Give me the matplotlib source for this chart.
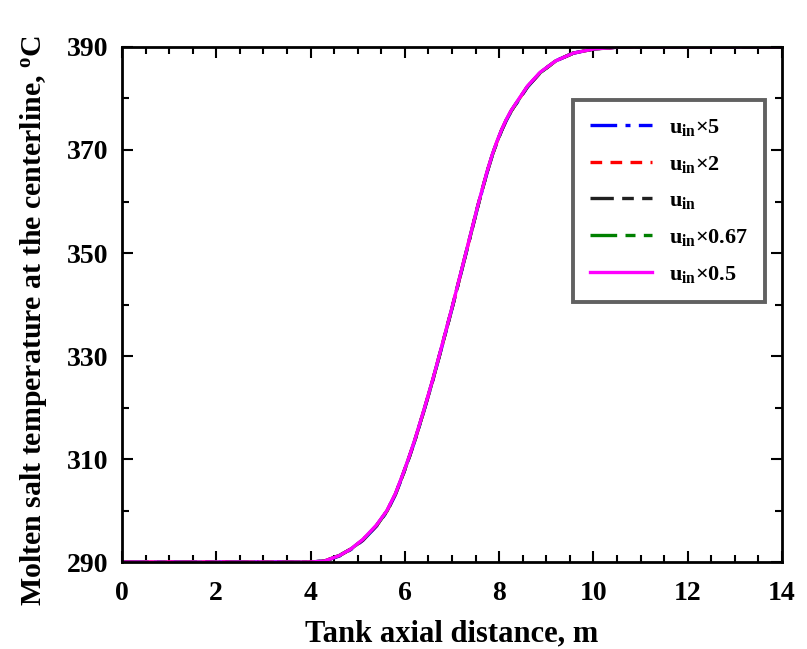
import matplotlib
matplotlib.use("Agg")
import matplotlib.pyplot as plt
from matplotlib.ticker import MultipleLocator, FixedLocator

plt.rcParams['font.family'] = ['Liberation Serif', 'DejaVu Serif']
plt.rcParams['font.weight'] = 'bold'
plt.rcParams['mathtext.fontset'] = 'custom'
plt.rcParams['mathtext.rm'] = 'Liberation Serif:bold'
plt.rcParams['mathtext.it'] = 'Liberation Serif:bold'
plt.rcParams['mathtext.bf'] = 'Liberation Serif:bold'

# Axial distance (m)
x = [0, 2, 4.0, 4.3, 4.62, 4.85, 5.11, 5.4, 5.62, 5.8, 5.96, 6.1, 6.22, 6.4, 6.6, 6.8,
     7.0, 7.18, 7.36, 7.55, 7.74, 7.85, 7.95, 8.05, 8.15, 8.25, 8.38, 8.6, 8.87, 9.2,
     9.57, 10.0, 10.56, 12, 14]
# Centerline temperature (C) for each inlet velocity
t_x5 = [290, 290, 290.0, 290.2, 291.2, 292.4, 294.2, 297.0, 299.8, 303.1, 306.9, 310.5,
        313.8, 319.2, 325.5, 332.3, 339.2, 345.7, 352.2, 359.1, 365.5, 368.8, 371.4,
        373.7, 375.7, 377.4, 379.2, 382.2, 385.0, 387.3, 388.8, 389.6, 390, 390, 390]
t_x2 = [290, 290, 290.0, 290.2, 291.3, 292.5, 294.3, 297.1, 299.9, 303.2, 307.0, 310.6,
        313.9, 319.3, 325.6, 332.4, 339.3, 345.8, 352.3, 359.2, 365.6, 368.9, 371.5,
        373.8, 375.8, 377.5, 379.3, 382.3, 385.0, 387.3, 388.8, 389.6, 390, 390, 390]
t_x1 = [290, 290, 290.0, 290.2, 291.3, 292.5, 294.3, 297.1, 299.9, 303.2, 307.0, 310.6,
        313.9, 319.3, 325.6, 332.4, 339.3, 345.8, 352.3, 359.2, 365.6, 368.9, 371.5,
        373.8, 375.8, 377.5, 379.3, 382.3, 385.0, 387.3, 388.8, 389.6, 390, 390, 390]
t_x067 = [290, 290, 290.0, 290.2, 291.3, 292.5, 294.3, 297.1, 299.9, 303.2, 307.0, 310.6,
          313.9, 319.3, 325.6, 332.4, 339.3, 345.8, 352.3, 359.2, 365.6, 368.9, 371.5,
          373.8, 375.8, 377.5, 379.3, 382.3, 385.0, 387.3, 388.8, 389.6, 390, 390, 390]
t_x05 = [290, 290, 290.0, 290.2, 291.3, 292.5, 294.4, 297.2, 300.0, 303.3, 307.1, 310.7,
         314.0, 319.4, 325.7, 332.5, 339.4, 345.9, 352.4, 359.3, 365.7, 369.0, 371.6,
         373.9, 375.9, 377.6, 379.4, 382.4, 385.1, 387.3, 388.8, 389.6, 390, 390, 390]

labels = [r'u$_{in}$×5', r'u$_{in}$×2', r'u$_{in}$', r'u$_{in}$×0.67', r'u$_{in}$×0.5']
colors = ['#0000ff', '#ff0000', '#202020', '#008000', '#ff00ff']
styles = [(0, (8, 2.5, 1.5, 2.5)), (0, (3.5, 2.5)), (0, (7, 2.5, 3.5, 2.5)),
          (0, (8, 2.5, 3, 2.5)), '-']
series = [t_x5, t_x2, t_x1, t_x067, t_x05]
yticks = [290, 310, 330, 350, 370, 390]

fig = plt.figure(figsize=(8.07, 6.49), dpi=100)
ax = fig.add_axes([0.1512, 0.134, 0.8178, 0.7936])

for s, c, ls, lab in zip(series, colors, styles, labels):
    ax.plot(x, s, color=c, linestyle=ls, linewidth=2.4, label=lab)

ax.set_xlim(0, 14)
ax.set_ylim(290, 390)
ax.xaxis.set_major_locator(MultipleLocator(2))
ax.xaxis.set_minor_locator(MultipleLocator(0.5))
ax.yaxis.set_major_locator(FixedLocator(yticks))
ax.yaxis.set_minor_locator(MultipleLocator(10))
ax.tick_params(which='both', direction='in', top=True, right=True, width=1.5)
ax.tick_params(which='major', length=8, labelsize=20)
ax.tick_params(axis='x', which='major', pad=14)
ax.tick_params(axis='y', which='major', pad=10)
ax.tick_params(which='minor', length=5)
for sp in ax.spines.values():
    sp.set_linewidth(2)

ax.set_xlabel('Tank axial distance, m', fontsize=22, fontweight='bold', labelpad=9)
ax.set_ylabel(r'Molten salt temperature at the centerline, $^{o}$C', fontsize=21.5,
              fontweight='bold')
ax.yaxis.set_label_coords(-0.11, 0.47)

leg = ax.legend(loc='upper right', bbox_to_anchor=(0.974, 0.897), borderaxespad=0,
                fontsize=16, frameon=True, fancybox=False, edgecolor='#3a3a3a',
                handlelength=2.8, labelspacing=0.72, borderpad=0.75, handletextpad=0.76)
leg.get_frame().set_linewidth(2.8)

fig.savefig('out.png', dpi=100)
